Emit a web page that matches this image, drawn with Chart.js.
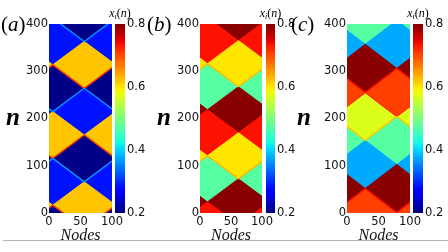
<!DOCTYPE html>
<html><head><meta charset="utf-8">
<script src="https://cdn.jsdelivr.net/npm/chart.js@4.4.1/dist/chart.umd.min.js"></script>
<style>
html,body{margin:0;padding:0;background:#fff;}
#wrap{position:relative;width:448px;height:252px;overflow:hidden;background:#fff;}
canvas{position:absolute;top:0;}
.lbl{position:absolute;font-family:"Liberation Serif",serif;color:#000;white-space:nowrap;line-height:1;}
</style></head><body><div id="wrap"></div>
<script>
// ---- tick labels ----
const nodeTicks = [0, 50, 100];
const nTicks = [0, 100, 200, 300, 400];
const cbTicks = [0.2, 0.4, 0.6, 0.8];
const panelNames = ['(a)', '(b)', '(c)'];

// ---- panel (a): diamond cells: centre node, centre n, value x_i(n), value on lower edge (front) ----
const aCenterX = [6, 56, 6, 56, 6, 56, 6, 56, 6, 56];
const aCenterN = [-33, 16.5, 66, 115.5, 165, 214.5, 264, 313.5, 363, 412.5];
const aValue   = [0.205, 0.62, 0.285, 0.205, 0.62, 0.285, 0.205, 0.62, 0.285, 0.205];
const aFront   = [0.365, 0.71, null, 0.365, 0.71, null, 0.365, 0.71, null, 0.365];
const aHalfN = 49.5;

// ---- panel (b) ----
const bCenterX = [12, 62, 12, 62, 12, 62, 12, 62, 12, 62];
const bCenterN = [-25.25, 23.5, 72.25, 121, 169.75, 218.5, 267.25, 316, 364.75, 413.5];
const bValue   = [0.735, 0.795, 0.472, 0.6, 0.735, 0.795, 0.472, 0.6, 0.735, 0.795];
const bFront   = [null, null, null, 0.63, null, null, null, 0.63, null, null];
const bHalfN = 48.75;

// ---- panel (c) ----
const cCenterX = [79, 29, 79, 29, 79, 29, 79, 29, 79, 29];
const cCenterN = [-49.86, 1, 51.86, 102.72, 153.58, 204.44, 255.3, 306.16, 357.02, 407.88];
const cValue   = [0.57, 0.7055, 0.795, 0.3755, 0.472, 0.57, 0.7055, 0.795, 0.3755, 0.472];
const cFront   = [0.62, 0.72, 0.74, null, null, 0.62, 0.72, 0.74, null, null];
const cHalfN = 50.86;

const NODE_HALF = 50; // half width of a diamond, ring of 100 nodes
const VMIN = 0.2, VMAX = 0.8;

// matplotlib "jet" colour map
const JET = {
  r: [[0,0],[0.35,0],[0.66,1],[0.89,1],[1,0.5]],
  g: [[0,0],[0.125,0],[0.375,1],[0.64,1],[0.91,0],[1,0]],
  b: [[0,0.5],[0.11,1],[0.34,1],[0.65,0],[1,0]]
};
function seg(arr, t){
  for (let i=1;i<arr.length;i++){
    if (t <= arr[i][0]) {
      const [x0,y0]=arr[i-1],[x1,y1]=arr[i];
      return y0 + (y1-y0)*(t-x0)/(x1-x0);
    }
  }
  return arr[arr.length-1][1];
}
function jetColor(v){
  const t = Math.min(1, Math.max(0, (v-VMIN)/(VMAX-VMIN)));
  const r=Math.round(255*seg(JET.r,t)), g=Math.round(255*seg(JET.g,t)), b=Math.round(255*seg(JET.b,t));
  return `rgb(${r},${g},${b})`;
}

function buildDatasets(cx, cn, val, front, half){
  const ds = [];
  for (let k=0;k<cx.length;k++){
    for (const s of [-100, 0, 100]){
      const x = cx[k]+s, n = cn[k];
      if (x+NODE_HALF < 0 || x-NODE_HALF > 100 || n+half < 0 || n-half > 400) continue;
      const col = jetColor(val[k]);
      ds.push({
        data:[{x:x-NODE_HALF,y:n},{x:x,y:n+half},{x:x+NODE_HALF,y:n},{x:x,y:n-half},{x:x-NODE_HALF,y:n}],
        showLine:true, fill:'shape', backgroundColor:col, borderColor:col, borderWidth:1,
        pointRadius:0, pointHoverRadius:0, order:2, clip:0, tension:0
      });
      if (front[k] != null){
        ds.push({
          data:[{x:x-NODE_HALF,y:n},{x:x,y:n-half},{x:x+NODE_HALF,y:n}],
          showLine:true, fill:false, borderColor:jetColor(front[k]), borderWidth:1.4,
          pointRadius:0, pointHoverRadius:0, order:1, clip:0, tension:0
        });
      }
    }
  }
  return ds;
}

const tickFont = {family:'DejaVu Sans', size:11.5};
const wrap = document.getElementById('wrap');

// separator line at bottom
const line = document.createElement('div');
line.style.cssText = 'position:absolute;left:3px;top:240px;width:445px;height:1px;background:#b4b4b4;';
wrap.appendChild(line);

const panels = [
  {plotL:49, plotR:112, cbL:115, cbR:125, lblX:1, nX:6, cx:aCenterX, cn:aCenterN, v:aValue, f:aFront, h:aHalfN},
  {plotL:200, plotR:262, cbL:266, cbR:275, lblX:147, nX:157, cx:bCenterX, cn:bCenterN, v:bValue, f:bFront, h:bHalfN},
  {plotL:347, plotR:410, cbL:413, cbR:423, lblX:291, nX:297, cx:cCenterX, cn:cCenterN, v:cValue, f:cFront, h:cHalfN}
];

function mkCanvas(left, width){
  const c = document.createElement('canvas');
  c.style.left = left+'px';
  c.style.width = width+'px'; c.style.height = '252px';
  c.width = width; c.height = 252;
  wrap.appendChild(c);
  return c;
}

const YAX = 40, RPAD = 14;
panels.forEach((p, idx) => {
  const pw = p.plotR - p.plotL;
  const cv = mkCanvas(p.plotL - YAX, YAX + pw + RPAD);
  new Chart(cv, {
    type:'scatter',
    data:{datasets: buildDatasets(p.cx, p.cn, p.v, p.f, p.h)},
    options:{
      responsive:false, animation:false, events:[],
      layout:{padding:{top:24, bottom:6.4, left:0, right:RPAD}},
      plugins:{legend:{display:false}, tooltip:{enabled:false}},
      scales:{
        x:{type:'linear', min:0, max:100,
           afterBuildTicks:s=>{s.ticks = nodeTicks.map(v=>({value:v}));},
           afterFit:s=>{s.height = 32.6;},
           grid:{display:false, drawTicks:false}, border:{display:false},
           ticks:{padding:2, color:'#111', font:tickFont, maxRotation:0, autoSkip:false, callback:v=>String(v)},
           title:{display:true, text:'Nodes', color:'#111', padding:0,
                  font:{family:'Liberation Serif', size:16, style:'italic'}}},
        y:{type:'linear', min:0, max:400,
           afterBuildTicks:s=>{s.ticks = nTicks.map(v=>({value:v}));},
           afterFit:s=>{s.width = YAX;},
           grid:{display:false, drawTicks:false}, border:{display:false},
           ticks:{padding:1, color:'#111', font:tickFont, autoSkip:false, callback:v=>String(v)}}
      }
    }
  });

  // colour bar
  const cbw = p.cbR - p.cbL;
  const cc = mkCanvas(p.cbL, cbw + 30);
  new Chart(cc, {
    type:'bar',
    data:{labels:[''], datasets:[{
      data:[[VMIN, VMAX]],
      backgroundColor:(ctx)=>{
        const ch = ctx.chart, a = ch.chartArea;
        if (!a) return jetColor(0.5);
        const g = ch.ctx.createLinearGradient(0, a.bottom, 0, a.top);
        for (let i=0;i<=40;i++){ g.addColorStop(i/40, jetColor(VMIN + (VMAX-VMIN)*i/40)); }
        return g;
      },
      borderWidth:0, borderSkipped:false, barPercentage:1, categoryPercentage:1
    }]},
    options:{
      responsive:false, animation:false, events:[],
      layout:{padding:{top:24, bottom:39, left:0, right:0}},
      plugins:{legend:{display:false}, tooltip:{enabled:false}},
      scales:{
        x:{display:false},
        y:{position:'right', min:VMIN, max:VMAX,
           afterBuildTicks:s=>{s.ticks = cbTicks.map(v=>({value:v}));},
           afterFit:s=>{s.width = 30;},
           grid:{display:false, drawTicks:false}, border:{display:false},
           ticks:{padding:2, color:'#111', font:tickFont, callback:v=>Number(v).toFixed(1)}}
      }
    }
  });

  // panel letter
  const L = document.createElement('div');
  L.className = 'lbl';
  L.style.cssText += `left:${p.lblX}px;top:14px;font-size:21px;`;
  L.innerHTML = panelNames[idx].replace(/([a-c])/, '<i>$1</i>');
  wrap.appendChild(L);

  // n label
  const N = document.createElement('div');
  N.className = 'lbl';
  N.style.cssText += `left:${p.nX}px;top:104px;font-size:25px;font-style:italic;font-weight:bold;`;
  N.textContent = 'n';
  wrap.appendChild(N);

  // colour bar title
  const T = document.createElement('div');
  T.className = 'lbl';
  T.style.cssText += `left:${(p.cbL+p.cbR)/2}px;top:7px;font-size:12px;transform:translateX(-50%);`;
  T.innerHTML = '<i>x</i><sub style="font-size:8px;vertical-align:-2px;line-height:0"><i>i</i></sub>(<i>n</i>)';
  wrap.appendChild(T);
});
</script>
</body></html>
